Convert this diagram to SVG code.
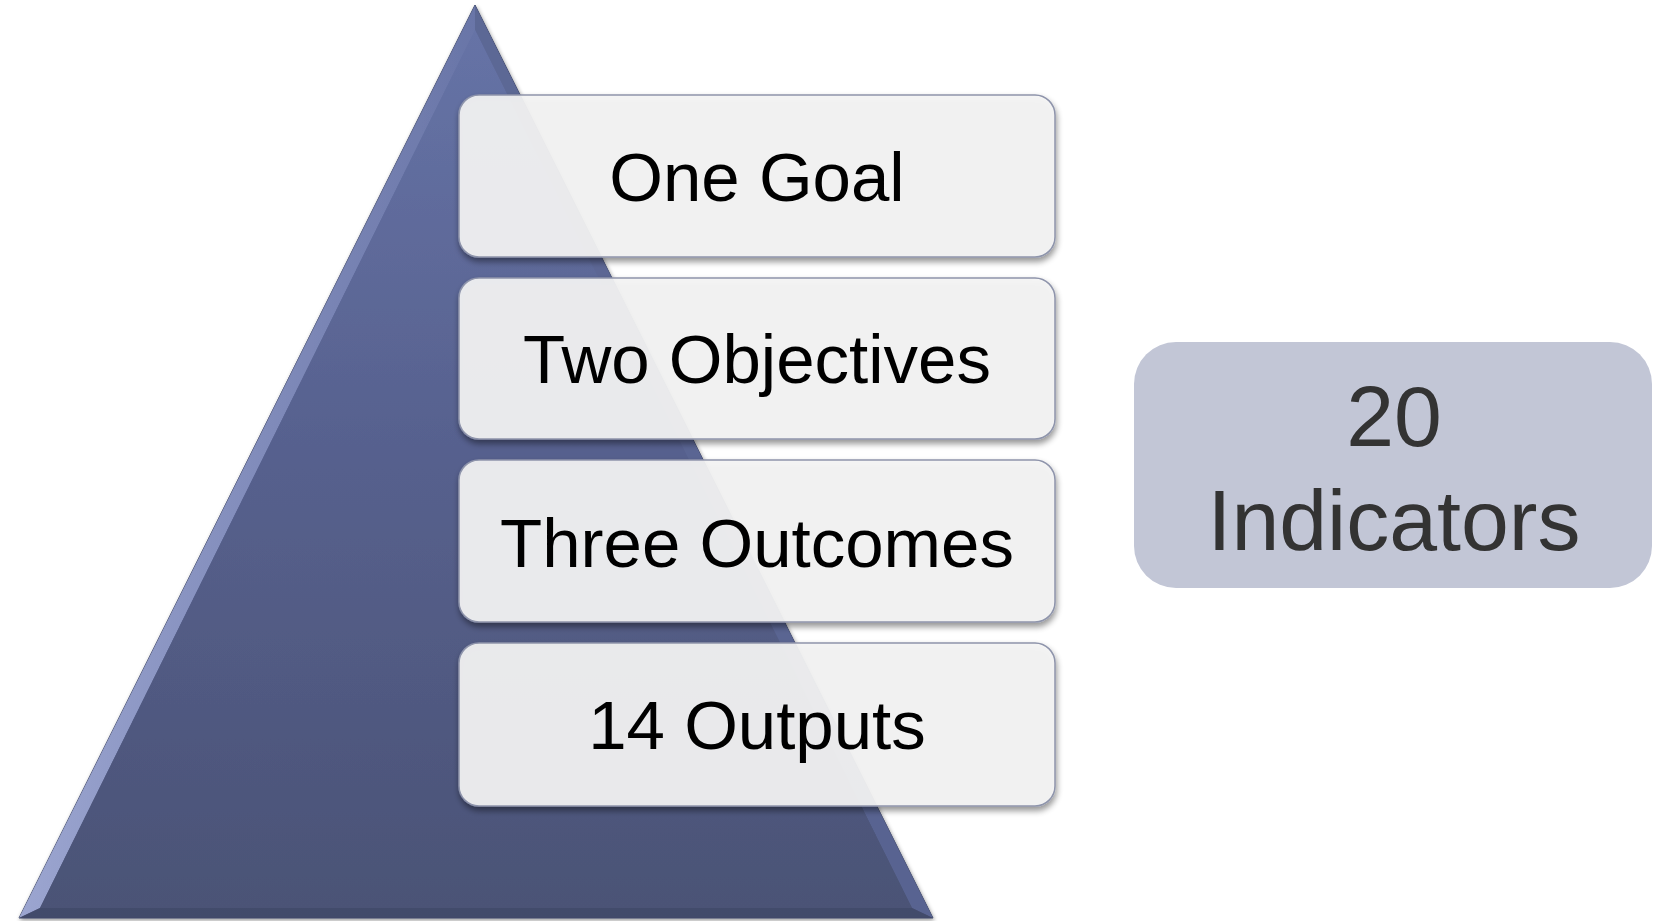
<svg xmlns="http://www.w3.org/2000/svg" width="1658" height="921" viewBox="0 0 1658 921">
<defs>
<linearGradient id="triG" x1="0" y1="0" x2="0" y2="1">
<stop offset="0" stop-color="#6673a6"/>
<stop offset="0.5" stop-color="#56608d"/>
<stop offset="1" stop-color="#4b5376"/>
</linearGradient>
<linearGradient id="bevL" x1="0" y1="0" x2="1" y2="0">
<stop offset="0" stop-color="#aab4e0"/>
<stop offset="1" stop-color="#6a76a8"/>
</linearGradient>
<filter id="sh" x="-5%" y="-10%" width="110%" height="125%">
<feGaussianBlur in="SourceAlpha" stdDeviation="3"/>
<feOffset dx="1" dy="4" result="b"/>
<feComponentTransfer><feFuncA type="linear" slope="0.45"/></feComponentTransfer>
<feMerge><feMergeNode/><feMergeNode in="SourceGraphic"/></feMerge>
</filter>
<filter id="tsh" x="-5%" y="-5%" width="110%" height="110%">
<feGaussianBlur in="SourceAlpha" stdDeviation="2"/>
<feOffset dx="1" dy="2"/>
<feComponentTransfer><feFuncA type="linear" slope="0.4"/></feComponentTransfer>
<feMerge><feMergeNode/><feMergeNode in="SourceGraphic"/></feMerge>
</filter>
</defs>
<style>
.box{fill:#f4f4f4;fill-opacity:0.92;stroke:#8e94ab;stroke-width:1.5;filter:url(#sh)}
.lbl{font-family:"Liberation Sans",Arial,sans-serif;font-size:69px;fill:#000;text-anchor:middle}
.ind{font-family:"Liberation Sans",Arial,sans-serif;font-size:86px;fill:#333;text-anchor:middle}
</style>
<g id="pyramid" filter="url(#tsh)">
<polygon points="475,5 933,918 19,918" fill="url(#triG)" stroke="#3f4766" stroke-width="1"/>
<polygon points="475,5 475,30 40,908 19,918" fill="url(#bevL)" opacity="0.85"/>
<polygon points="475,5 933,918 912,908 475,30" fill="#5b6694" opacity="0.9"/>
<polygon points="19,918 40,908 912,908 933,918" fill="#434a6a" opacity="0.9"/>
<polygon points="475,30 912,908 40,908" fill="url(#triG)"/>
</g>
<g id="node-goal">
<rect class="box" x="459" y="95" width="596" height="162" rx="20"/>
<text class="lbl" x="757" y="201">One Goal</text>
</g>
<g id="node-objectives">
<rect class="box" x="459" y="278" width="596" height="161" rx="20"/>
<text class="lbl" x="757" y="383">Two Objectives</text>
</g>
<g id="node-outcomes">
<rect class="box" x="459" y="460" width="596" height="162" rx="20"/>
<text class="lbl" x="757" y="567">Three Outcomes</text>
</g>
<g id="node-outputs">
<rect class="box" x="459" y="643" width="596" height="163" rx="20"/>
<text class="lbl" x="757" y="749">14 Outputs</text>
</g>
<g id="node-indicators">
<rect x="1134" y="342" width="518" height="246" rx="42" fill="#c2c6d6"/>
<text class="ind" x="1394" y="446">20</text>
<text class="ind" x="1394" y="550">Indicators</text>
</g>
<g id="connectors"/>
</svg>
